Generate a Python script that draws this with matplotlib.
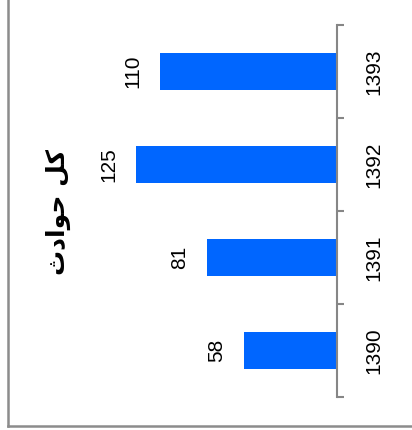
import matplotlib
matplotlib.use('Agg')
import matplotlib.pyplot as plt
from matplotlib.lines import Line2D

# dados do gráfico (anos e total de acidentes)
anos = ['1390', '1391', '1392', '1393']
valores = [58, 81, 125, 110]
titulo = '\uFE99\uFEA9\uFE8D\uFEEE\uFEA3 \uFEDE\uFB90'  # کل حوادث (formas já ligadas, ordem visual)

cor_barra = '#0066FF'
cor_eixo = '#868686'

fig = plt.figure(figsize=(4.12, 4.30), dpi=100)
ax = fig.add_axes([0.038, 0.0767, 0.818 - 0.038, 0.865])

pos = list(range(len(anos)))
ax.barh(pos, valores, height=0.4, color=cor_barra)

ax.set_xlim(200, 0)
ax.set_ylim(-0.5, len(anos) - 0.5)

for s in ['top', 'left', 'bottom']:
    ax.spines[s].set_visible(False)
ax.spines['right'].set_color(cor_eixo)
ax.spines['right'].set_linewidth(1.5)

ax.set_xticks([])
ax.yaxis.tick_right()
ax.set_yticks(pos)
ax.set_yticklabels(anos, rotation=90, va='center', ha='left',
                   fontsize=15, family='Liberation Sans')
ax.tick_params(axis='y', which='major', length=0, pad=20)
ax.set_yticks([p - 0.5 for p in pos] + [len(anos) - 0.5], minor=True)
ax.tick_params(axis='y', which='minor', length=5, width=1.5, color=cor_eixo,
               direction='out')

# rótulos de valor
for p, v in zip(pos, valores):
    ax.annotate(str(v), (v, p), xytext=(-13, 0), textcoords='offset points',
                rotation=90, ha='right', va='center', fontsize=15,
                family='Liberation Sans')

# título rotacionado
fig.text(58 / 412, 1 - 212 / 430, titulo, rotation=90, ha='center', va='center',
         fontsize=18, fontweight='bold', family='DejaVu Sans')

# borda da área do gráfico
fig.add_artist(Line2D([8 / 412, 8 / 412], [1, 4 / 430], transform=fig.transFigure,
                      color='#8c8c8c', linewidth=1.8))
fig.add_artist(Line2D([8 / 412, 1], [4 / 430, 4 / 430], transform=fig.transFigure,
                      color='#8c8c8c', linewidth=1.8))

fig.savefig('out.png', dpi=100)
